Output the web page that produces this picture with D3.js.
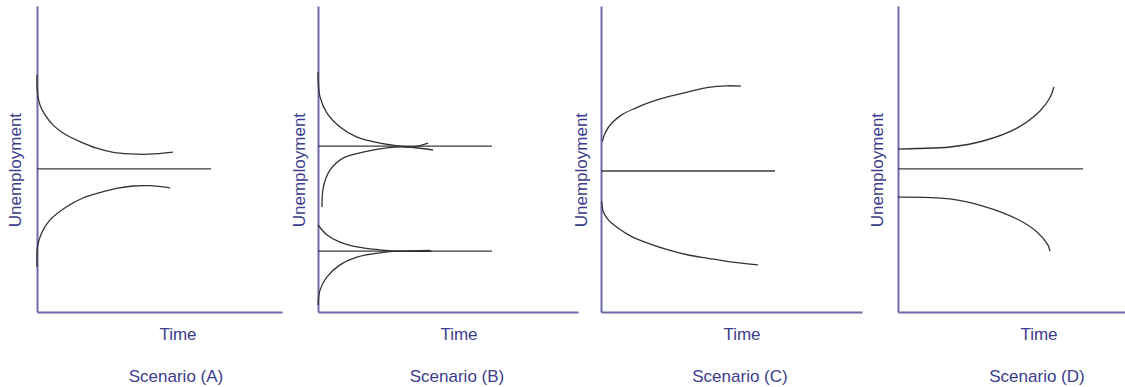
<!DOCTYPE html>
<html>
  <head>
    <script src="https://cdnjs.cloudflare.com/ajax/libs/d3/7.8.5/d3.min.js"></script>
    <style>
      body { margin: 0; background: #fff; }
      text {
        font-family: "Liberation Sans", Arial, sans-serif;
        font-size: 17px;
        fill: #3c3c8c;
      }
      .axis path { stroke: #6c6ca8; stroke-width: 2; }
      path.curve { fill: none; stroke: #333; stroke-width: 1.3; }
      line.natural { stroke: #3a3a3a; stroke-width: 1.4; }
    </style>
  </head>
  <body>
    <svg width="1125" height="387"></svg>
    <script>
      // scenario titles and axis labels
      var scenarios = ["Scenario (A)", "Scenario (B)", "Scenario (C)", "Scenario (D)"];
      var yLabel = "Unemployment";
      var xLabel = "Time";

      // natural rate lines: [level, end time]
      var naturalA = [[47.7, 87]];
      var naturalB = [[55.3, 87], [20.3, 87]];
      var naturalC = [[47, 87]];
      var naturalD = [[47.7, 92.5]];

      // unemployment paths, [time, unemployment]
      var pathsA = [
        [[0, 79], [0.2, 73.5], [1.5, 69], [4, 65.7], [8.2, 62.2], [13.2, 59.6], [21.5, 56.8], [29.8, 54.6], [38.2, 53.2], [46.5, 52.7], [56, 52.6], [68, 53.3]],
        [[0, 15], [0.25, 21.7], [2.3, 26.3], [6.5, 30.7], [14.8, 35.1], [23, 38], [31.5, 39.8], [39.8, 41.2], [48, 42], [56.5, 42.1], [66.5, 41.4]]
      ];
      var pathsB = [
        [[0, 80], [1, 71.7], [4.5, 66.3], [11, 61.7], [19.5, 58.3], [31, 56.3], [41, 55.3], [47.5, 55], [55, 56.3]],
        [[2, 35], [2.7, 41.7], [6, 47.3], [12.5, 51.3], [22.5, 53.3], [34.5, 54.7], [44.5, 55], [57.5, 54]],
        [[0, 29], [4.5, 25.7], [11, 23.3], [19.5, 21.7], [31, 20.7], [37.5, 20.3], [56, 20.5]],
        [[0, 2.3], [1, 7.3], [4.5, 11.7], [11, 15.7], [19.5, 18.3], [31, 19.7], [37.5, 20.2], [57, 20.2]]
      ];
      var pathsC = [
        [[0.65, 56.8], [2, 59.6], [5.3, 62.9], [10.3, 65.7], [17, 67.9], [25.3, 70.1], [33.7, 71.8], [43.7, 73.4], [53.7, 74.9], [63, 75.4], [70, 75.3]],
        [[0.35, 36.8], [1.15, 33.4], [3.65, 30.7], [8.65, 27.9], [15.35, 25.1], [23.65, 22.9], [33.65, 20.7], [43.65, 19], [53.65, 17.9], [63, 16.9], [78.5, 15.7]]
      ];
      var pathsD = [
        [[0, 54.3], [9.5, 54.5], [26, 55], [42.5, 57], [59.5, 61.3], [71, 67], [76, 71.5], [78, 75]],
        [[0, 38.3], [26, 37.7], [42.5, 35.3], [59.5, 31], [69.5, 26.7], [75, 22.3], [76, 20.3]]
      ];

      var naturals = [naturalA, naturalB, naturalC, naturalD];
      var paths = [pathsA, pathsB, pathsC, pathsD];

      // panel placement (pixels)
      var lefts = [37, 318, 601, 898];
      var rights = [282, 578, 862, 1125];
      var yLabelGap = [16, 13, 14, 15];

      var svg = d3.select("svg");
      var y = d3.scaleLinear().domain([0, 102]).range([312, 6]);

      scenarios.forEach(function (name, i) {
        var x = d3.scaleLinear()
          .domain([0, (rights[i] - lefts[i]) / 2])
          .range([lefts[i], rights[i]]);
        var g = svg.append("g");

        g.append("g")
          .attr("class", "axis")
          .attr("transform", "translate(" + lefts[i] + ",0)")
          .call(d3.axisLeft(y).ticks(0).tickSize(0));
        g.append("g")
          .attr("class", "axis")
          .attr("transform", "translate(0," + y(0) + ")")
          .call(d3.axisBottom(x).ticks(0).tickSize(0));

        g.selectAll("line.natural")
          .data(naturals[i])
          .enter()
          .append("line")
          .attr("class", "natural")
          .attr("x1", x(0))
          .attr("x2", (d) => x(d[1]))
          .attr("y1", (d) => y(d[0]))
          .attr("y2", (d) => y(d[0]));

        var line = d3.line()
          .x((d) => x(d[0]))
          .y((d) => y(d[1]))
          .curve(d3.curveCatmullRom.alpha(0.5));

        g.selectAll("path.curve")
          .data(paths[i])
          .enter()
          .append("path")
          .attr("class", "curve")
          .attr("d", line);

        g.append("text")
          .attr("transform", "translate(" + (lefts[i] - yLabelGap[i]) + "," + y(47.3) + ") rotate(-90)")
          .attr("text-anchor", "middle")
          .text(yLabel);

        g.append("text")
          .attr("x", x(70.5))
          .attr("y", 340)
          .attr("text-anchor", "middle")
          .text(xLabel);

        g.append("text")
          .attr("x", x(69.5))
          .attr("y", 382)
          .attr("text-anchor", "middle")
          .text(name);
      });
    </script>
  </body>
</html>
